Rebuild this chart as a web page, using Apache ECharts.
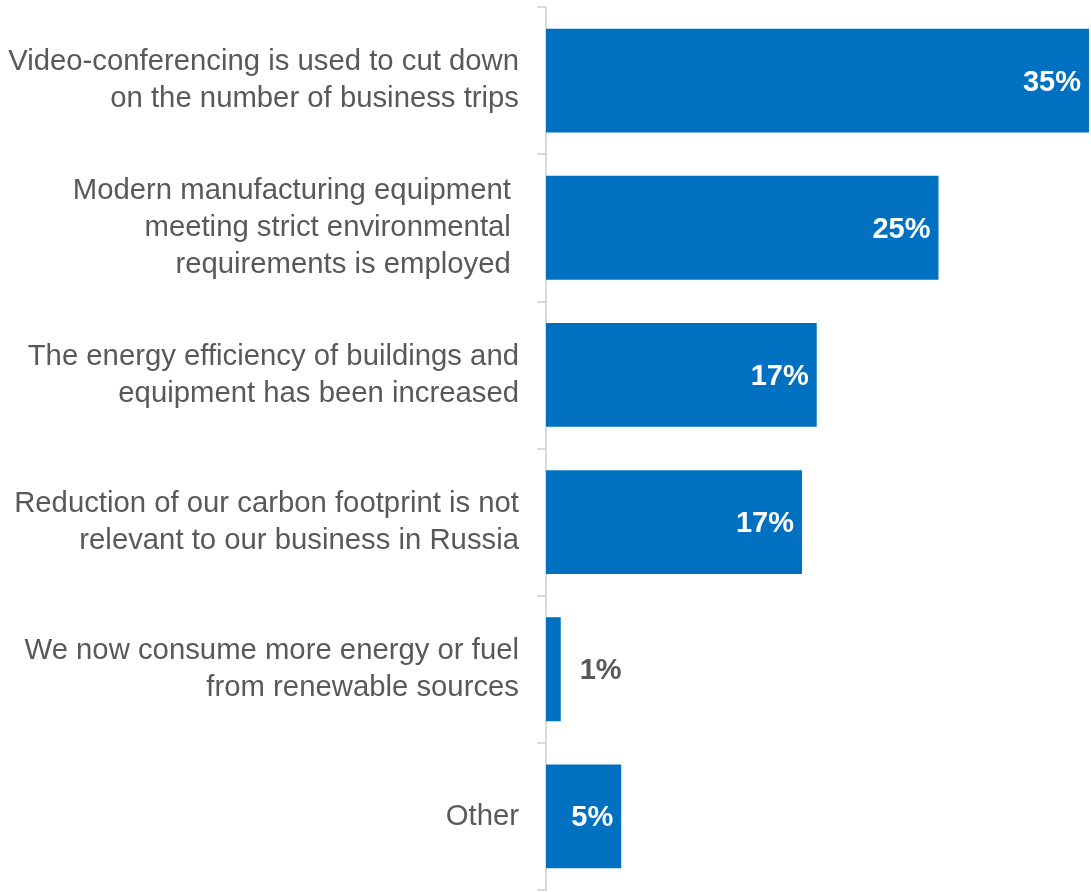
<!DOCTYPE html>
<html>
<head>
<meta charset="utf-8">
<script src="https://cdn.jsdelivr.net/npm/echarts@6/dist/echarts.min.js"></script>
<style>
html,body{margin:0;padding:0;background:#fff;}
#chart{width:1091px;height:892px;}
</style>
</head>
<body>
<div id="chart"></div>
<script>
var categories = [
  "Video-conferencing is used to cut down\non the number of business trips",
  "Modern manufacturing equipment \nmeeting strict environmental \nrequirements is employed ",
  "The energy efficiency of buildings and\nequipment has been increased",
  "Reduction of our carbon footprint is not\nrelevant to our business in Russia",
  "We now consume more energy or fuel\nfrom renewable sources",
  "Other"
];
var values = [35, 25.3, 17.45, 16.5, 0.95, 4.85];
var insideLabel = [true, true, true, true, false, true];

var chart = echarts.init(document.getElementById('chart'));
var data = values.map(function (v, i) {
  var lbl = insideLabel[i]
    ? { position: 'insideRight', distance: 8, color: '#ffffff' }
    : { position: 'right', distance: 19, color: '#595959' };
  return { value: v, label: lbl };
});
chart.setOption({
  animation: false,
  grid: { left: 546, right: 2, top: 7, bottom: 2, containLabel: false },
  xAxis: { type: 'value', min: 0, max: 35, show: false },
  yAxis: {
    type: 'category',
    inverse: true,
    data: categories,
    axisLine: { show: true, lineStyle: { color: '#d9d9d9', width: 2 } },
    axisTick: { show: true, length: 9, lineStyle: { color: '#d9d9d9', width: 2 } },
    axisLabel: {
      margin: 27,
      color: '#595959',
      fontFamily: 'Liberation Sans, Arial, sans-serif',
      fontSize: 29.3,
      lineHeight: 37,
      padding: [6, 0, 0, 0],
      align: 'right'
    },
    splitLine: { show: false }
  },
  series: [{
    type: 'bar',
    data: data,
    barCategoryGap: '29.4%',
    itemStyle: { color: '#0070C0' },
    label: {
      show: true,
      offset: [0, 2],
      fontFamily: 'Liberation Sans, Arial, sans-serif',
      fontSize: 29,
      fontWeight: 'bold',
      formatter: function (p) { return Math.round(p.value) + '%'; }
    }
  }]
});
</script>
</body>
</html>
